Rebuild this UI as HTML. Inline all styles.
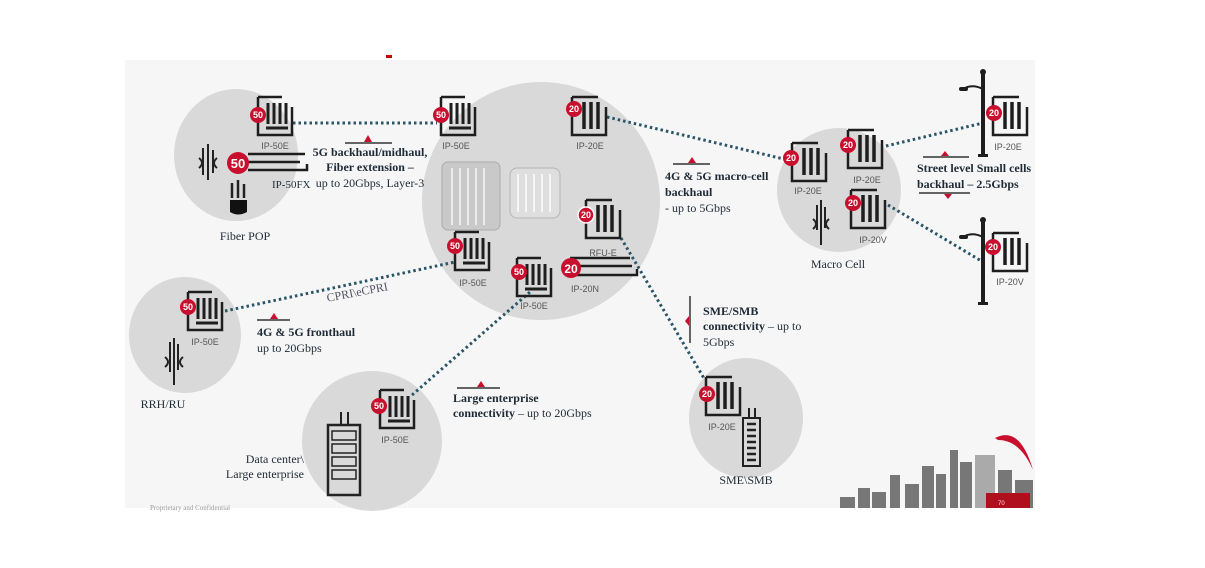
<!DOCTYPE html>
<html><head><meta charset="utf-8"><style>
html,body{margin:0;padding:0;background:#fff;}
svg{display:block;}
.b{font-family:"Liberation Serif",serif;font-weight:bold;font-size:12px;fill:#1e2a36;}
.n{font-family:"Liberation Serif",serif;font-size:12px;fill:#1e2a36;}
.l{font-family:"Liberation Sans",sans-serif;font-size:9px;fill:#555;}
.bn{font-family:"Liberation Sans",sans-serif;font-weight:bold;font-size:9px;fill:#fff;}
.dot{stroke:#2b5566;stroke-width:3;stroke-dasharray:2.5 3;fill:none;}
</style></head><body>
<svg width="1205" height="568" viewBox="0 0 1205 568" xmlns="http://www.w3.org/2000/svg">
<defs>
<g id="d50" fill="none" stroke="#1e1e1e" stroke-width="2.5">
<path d="M0 0 H24 M0 0 V38 H34 V10"/>
<path d="M10 6 V27 M16 6 V27 M22 6 V27 M28 6 V27" stroke-width="3"/>
<path d="M8 31 H30" stroke-width="3"/>
</g>
<g id="d20" fill="none" stroke="#1e1e1e" stroke-width="2.5">
<path d="M0 0 H26 M0 0 V38 H34 V10"/>
<path d="M12 5 V32 M19 5 V32 M26 5 V32" stroke-width="3.5"/>
</g>
<g id="pole" fill="#1e1e1e" stroke="#1e1e1e">
<rect x="-2" y="0" width="4" height="82" stroke="none"/>
<circle cx="0" cy="-2" r="3" stroke="none"/>
<path d="M0 15 Q-10 10 -18 14" fill="none" stroke-width="2"/>
<rect x="-24" y="13" width="9" height="4" rx="2" stroke="none"/>
<rect x="-5" y="80" width="10" height="3" stroke="none"/>
</g>
</defs>
<rect x="125" y="60" width="910" height="448" fill="#f6f6f6"/>
<rect x="386" y="55" width="6" height="3" fill="#c00"/>
<ellipse cx="236" cy="155" rx="62" ry="66" fill="#d9d9d9"/>
<circle cx="541" cy="201" r="119" fill="#d9d9d9"/>
<ellipse cx="839" cy="190" rx="62" ry="62" fill="#d9d9d9"/>
<ellipse cx="185" cy="335" rx="56" ry="58" fill="#d9d9d9"/>
<ellipse cx="372" cy="441" rx="70" ry="70" fill="#d9d9d9"/>
<ellipse cx="746" cy="418" rx="57" ry="60" fill="#d9d9d9"/>
<path class="dot" d="M293 123 H437"/>
<path class="dot" d="M607 117 L788 160"/>
<path class="dot" d="M886 146 L983 123"/>
<path class="dot" d="M888 205 L983 262"/>
<path class="dot" d="M225 311 L455 262"/>
<path class="dot" d="M412 395 L530 292"/>
<path class="dot" d="M621 238 L705 380"/>
<rect x="442" y="162" width="58" height="68" rx="6" fill="#c9c9c9" stroke="#aaa"/>
<path d="M452 168 V225 M460 168 V225 M468 168 V225 M476 168 V225 M484 168 V225" stroke="#ececec" stroke-width="2"/>
<rect x="510" y="168" width="50" height="50" rx="7" fill="#dedede" stroke="#b5b5b5"/>
<path d="M518 174 V212 M526 174 V212 M534 174 V212 M542 174 V212 M550 174 V212" stroke="#f5f5f5" stroke-width="2"/>
<use href="#d50" x="258" y="97"/><circle cx="258" cy="115" r="8" fill="#c8102e"/><text class="bn" x="258" y="118" text-anchor="middle">50</text>
<text class="l" x="275" y="149" text-anchor="middle">IP-50E</text>
<path d="M248 154 H305 M248 162 H300 M248 170 H307 V164" stroke="#1e1e1e" stroke-width="2.5" fill="none"/>
<circle cx="238" cy="163" r="11" fill="#c8102e"/><text class="bn" x="238" y="168" text-anchor="middle" style="font-size:13px">50</text>
<text class="n" x="272" y="188" style="font-size:11px">IP-50FX</text>
<path d="M203 148 V175 M208 144 V180 M213 150 V173" stroke="#222" stroke-width="2"/>
<path d="M199 158 Q205 163 199 168 M217 158 Q211 163 217 168" stroke="#222" stroke-width="2" fill="none"/>
<path d="M232 183 V198 M238 180 V198 M244 184 V198" stroke="#222" stroke-width="2.5"/>
<path d="M230 200 H247 V212 Q238 217 230 212 Z" fill="#111"/>
<text class="n" x="245" y="240" text-anchor="middle">Fiber POP</text>
<use href="#d50" x="441" y="97"/><circle cx="441" cy="115" r="8" fill="#c8102e"/><text class="bn" x="441" y="118" text-anchor="middle">50</text>
<text class="l" x="456" y="149" text-anchor="middle">IP-50E</text>
<use href="#d20" x="572" y="97"/><circle cx="574" cy="109" r="8" fill="#c8102e"/><text class="bn" x="574" y="112" text-anchor="middle">20</text>
<text class="l" x="590" y="149" text-anchor="middle">IP-20E</text>
<use href="#d20" x="586" y="200"/><circle cx="586" cy="215" r="8" fill="#c8102e" stroke="#fff" stroke-width="1.5"/><text class="bn" x="586" y="218" text-anchor="middle">20</text>
<text class="l" x="603" y="256" text-anchor="middle">RFU-E</text>
<path d="M570 258 H630 M575 266 H632 M575 275 H637 V269" stroke="#1e1e1e" stroke-width="2.5" fill="none"/>
<circle cx="571" cy="268" r="10" fill="#c8102e"/><text class="bn" x="571" y="273" text-anchor="middle" style="font-size:12px">20</text>
<text class="l" x="585" y="292" text-anchor="middle">IP-20N</text>
<use href="#d50" x="455" y="232"/><circle cx="455" cy="246" r="8" fill="#c8102e"/><text class="bn" x="455" y="249" text-anchor="middle">50</text>
<text class="l" x="473" y="286" text-anchor="middle">IP-50E</text>
<use href="#d50" x="517" y="258"/><circle cx="519" cy="272" r="8" fill="#c8102e"/><text class="bn" x="519" y="275" text-anchor="middle">50</text>
<text class="l" x="534" y="309" text-anchor="middle">IP-50E</text>
<path d="M345 143 H392" stroke="#333" stroke-width="1.5"/><path d="M364 142 L368 135 L372 142 Z" fill="#c8102e"/>
<text class="b" x="370" y="156" text-anchor="middle">5G backhaul/midhaul,</text>
<text class="b" x="370" y="171" text-anchor="middle">Fiber extension –</text>
<text class="n" x="370" y="187" text-anchor="middle">up to 20Gbps, Layer-3</text>
<path d="M673 164 H710" stroke="#333" stroke-width="1.5"/><path d="M688 163 L692 157 L696 163 Z" fill="#c8102e"/>
<text class="b" x="665" y="180">4G &amp; 5G macro-cell</text>
<text class="b" x="665" y="196">backhaul</text>
<text class="n" x="665" y="212">- up to 5Gbps</text>
<use href="#d20" x="792" y="143"/><circle cx="791" cy="158" r="8" fill="#c8102e"/><text class="bn" x="791" y="161" text-anchor="middle">20</text>
<text class="l" x="808" y="194" text-anchor="middle">IP-20E</text>
<use href="#d20" x="848" y="130"/><circle cx="848" cy="145" r="8" fill="#c8102e"/><text class="bn" x="848" y="148" text-anchor="middle">20</text>
<text class="l" x="867" y="183" text-anchor="middle">IP-20E</text>
<use href="#d20" x="851" y="190"/><circle cx="853" cy="203" r="8" fill="#c8102e"/><text class="bn" x="853" y="206" text-anchor="middle">20</text>
<text class="l" x="873" y="243" text-anchor="middle">IP-20V</text>
<path d="M817 205 V230 M821 200 V245 M825 207 V228" stroke="#222" stroke-width="2"/>
<path d="M813 219 Q819 224 813 229 M829 219 Q823 224 829 229" stroke="#222" stroke-width="2" fill="none"/>
<text class="n" x="838" y="268" text-anchor="middle">Macro Cell</text>
<use href="#pole" x="983" y="74"/>
<use href="#d20" x="993" y="97"/><circle cx="994" cy="113" r="8" fill="#c8102e"/><text class="bn" x="994" y="116" text-anchor="middle">20</text>
<text class="l" x="1008" y="150" text-anchor="middle">IP-20E</text>
<use href="#pole" x="983" y="222"/>
<use href="#d20" x="993" y="233"/><circle cx="993" cy="247" r="8" fill="#c8102e"/><text class="bn" x="993" y="250" text-anchor="middle">20</text>
<text class="l" x="1010" y="285" text-anchor="middle">IP-20V</text>
<path d="M923 157 H969" stroke="#333" stroke-width="1.5"/><path d="M941 156 L945 151 L949 156 Z" fill="#c8102e"/>
<text class="b" x="917" y="172">Street level Small cells</text>
<text class="b" x="917" y="188">backhaul  – 2.5Gbps</text>
<path d="M919 193 H970" stroke="#333" stroke-width="1.5"/><path d="M944 194 L948 199 L952 194 Z" fill="#c8102e"/>
<use href="#d50" x="188" y="292"/><circle cx="188" cy="307" r="8" fill="#c8102e"/><text class="bn" x="188" y="310" text-anchor="middle">50</text>
<text class="l" x="205" y="345" text-anchor="middle">IP-50E</text>
<path d="M170 342 V372 M174 338 V385 M178 344 V370" stroke="#222" stroke-width="2"/>
<path d="M165 357 Q171 362 165 367 M183 357 Q177 362 183 367" stroke="#222" stroke-width="2" fill="none"/>
<text class="n" x="163" y="408" text-anchor="middle">RRH/RU</text>
<text class="n" x="358" y="296" text-anchor="middle" transform="rotate(-11 358 296)" style="fill:#556">CPRI\eCPRI</text>
<path d="M257 320 H290" stroke="#333" stroke-width="1.5"/><path d="M270 319 L274 313 L278 319 Z" fill="#c8102e"/>
<text class="b" x="257" y="336">4G &amp; 5G fronthaul</text>
<text class="n" x="257" y="352">up to 20Gbps</text>
<use href="#d50" x="380" y="390"/><circle cx="379" cy="406" r="8" fill="#c8102e"/><text class="bn" x="379" y="409" text-anchor="middle">50</text>
<text class="l" x="395" y="443" text-anchor="middle">IP-50E</text>
<path d="M341 412 V425 M348 412 V425" stroke="#222" stroke-width="2"/>
<rect x="328" y="425" width="32" height="70" fill="none" stroke="#222" stroke-width="2.5"/>
<g fill="none" stroke="#222" stroke-width="1.5">
<rect x="332" y="431" width="24" height="9"/><rect x="332" y="444" width="24" height="9"/><rect x="332" y="457" width="24" height="9"/><rect x="332" y="470" width="24" height="9"/>
</g>
<text class="n" x="304" y="463" text-anchor="end">Data center\</text>
<text class="n" x="304" y="478" text-anchor="end">Large enterprise</text>
<path d="M457 388 H500" stroke="#333" stroke-width="1.5"/><path d="M477 387 L481 381 L485 387 Z" fill="#c8102e"/>
<text class="b" x="453" y="402">Large enterprise</text>
<text class="b" x="453" y="417">connectivity <tspan style="font-weight:normal">– up to 20Gbps</tspan></text>
<path d="M690 296 V343" stroke="#333" stroke-width="1.5"/><path d="M689 316 L685 321 L689 326 Z" fill="#c8102e"/>
<text class="b" x="703" y="315">SME/SMB</text>
<text class="b" x="703" y="330">connectivity <tspan style="font-weight:normal">– up to</tspan></text>
<text class="n" x="703" y="346">5Gbps</text>
<use href="#d20" x="706" y="377"/><circle cx="707" cy="394" r="8" fill="#c8102e"/><text class="bn" x="707" y="397" text-anchor="middle">20</text>
<text class="l" x="722" y="430" text-anchor="middle">IP-20E</text>
<path d="M749 408 V418 M755 408 V418" stroke="#222" stroke-width="2"/>
<rect x="743" y="418" width="17" height="48" fill="none" stroke="#222" stroke-width="2"/>
<path d="M747 424 H756 M747 430 H756 M747 436 H756 M747 442 H756 M747 448 H756 M747 454 H756 M747 460 H756" stroke="#222" stroke-width="2.5"/>
<text class="n" x="746" y="484" text-anchor="middle">SME\SMB</text>
<g fill="#777">
<rect x="840" y="497" width="15" height="11"/><rect x="858" y="488" width="12" height="20"/><rect x="872" y="492" width="14" height="16"/>
<rect x="890" y="475" width="10" height="33"/><rect x="905" y="484" width="14" height="24"/><rect x="922" y="466" width="12" height="42"/>
<rect x="936" y="474" width="10" height="34"/><rect x="950" y="450" width="8" height="58"/><rect x="960" y="462" width="12" height="46"/>
<rect x="975" y="455" width="20" height="53" fill="#aaa"/><rect x="998" y="470" width="14" height="38"/><rect x="1015" y="480" width="18" height="28"/>
</g>
<path d="M995 438 Q1020 425 1033 470 Q1020 440 998 440 Z" fill="#c8102e"/>
<rect x="986" y="493" width="44" height="15" fill="#b0101e"/>
<text x="998" y="505" style="font-family:'Liberation Sans',sans-serif;font-size:6px;fill:#fdd">70</text>
<text x="150" y="510" style="font-family:'Liberation Serif',serif;font-size:7px;fill:#999">Proprietary and Confidential</text>
</svg>
</body></html>
